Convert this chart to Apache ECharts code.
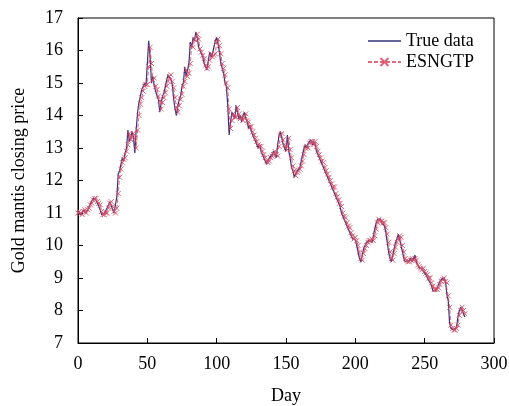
<!DOCTYPE html>
<html><head><meta charset="utf-8">
<script src="https://cdn.jsdelivr.net/npm/echarts@6/dist/echarts.min.js"></script>
<style>html,body{margin:0;padding:0;background:#fff}#c{width:509px;height:406px}</style>
</head><body><div id="c"></div>
<script>
const xTicks = [0, 50, 100, 150, 200, 250, 300];
const yTicks = [7, 8, 9, 10, 11, 12, 13, 14, 15, 16, 17];
const seriesNames = ['True data', 'ESNGTP'];
const trueData = [
11.05,11.0,10.95,11.0,11.1,11.0,11.05,11.1,11.2,11.3,
11.35,11.45,11.5,11.4,11.3,11.35,11.1,10.95,10.9,11.0,
10.95,11.15,11.25,11.35,11.3,11.1,11.0,11.05,11.5,12.2,
12.3,12.5,12.7,12.6,12.85,13.0,13.55,13.2,13.3,13.5,
13.35,12.85,13.6,14.1,14.4,14.6,14.8,14.9,15.0,14.9,
15.6,16.3,15.8,15.0,15.2,14.9,14.85,14.6,14.5,14.1,
14.4,14.6,14.7,14.9,15.1,15.25,15.3,15.1,14.95,14.5,
14.2,14.0,14.3,14.5,14.6,14.9,15.0,15.5,15.2,15.25,
15.6,16.26,16.1,16.4,16.3,16.57,16.4,16.1,16.0,15.9,
15.8,15.6,15.5,15.4,15.7,15.95,15.8,15.9,15.86,16.3,
16.4,16.2,15.95,15.6,15.45,15.3,15.0,14.9,14.3,13.4,
13.8,14.1,14.0,13.9,14.3,14.1,13.9,14.0,13.8,14.0,
14.1,13.9,13.8,13.6,13.7,13.5,13.4,13.3,13.2,13.15,
13.0,13.1,12.9,12.8,12.7,12.6,12.5,12.6,12.7,12.75,
12.8,12.9,12.85,12.7,13.1,13.4,13.5,13.3,13.1,13.0,
12.9,13.4,12.9,12.7,12.4,12.3,12.1,12.2,12.3,12.35,
12.4,12.6,12.8,13.0,13.1,13.0,13.15,13.2,13.25,13.1,
13.2,13.1,12.9,12.8,12.7,12.6,12.57,12.4,12.3,12.2,
12.1,12.0,11.9,11.8,11.85,11.6,11.5,11.4,11.3,11.2,
11.0,10.9,10.85,10.7,10.6,10.57,10.4,10.3,10.2,10.25,
10.17,10.0,9.8,9.6,9.49,9.7,9.9,10.0,10.1,10.15,
10.17,10.2,10.1,10.3,10.5,10.7,10.8,10.75,10.82,10.7,
10.75,10.6,10.4,10.1,9.8,9.6,9.5,9.7,9.9,10.1,
10.2,10.35,10.3,10.0,9.8,9.6,9.5,9.45,9.5,9.55,
9.6,9.5,9.6,9.7,9.5,9.4,9.3,9.25,9.3,9.2,
9.15,9.1,9.0,9.0,8.85,8.75,8.6,8.65,8.6,8.7,
8.8,8.9,8.95,9.0,8.95,8.9,8.5,8.3,7.6,7.45,
7.4,7.4,7.45,7.5,7.8,8.0,8.1,8.08,7.9,7.8
];
const esnData = [
11.0,11.05,11.0,10.95,11.05,11.1,11.0,11.1,11.15,11.25,
11.3,11.4,11.45,11.45,11.35,11.3,11.25,11.05,10.95,10.95,
11.0,11.0,11.15,11.3,11.35,11.2,11.05,11.0,11.15,11.6,
12.1,12.35,12.55,12.65,12.7,12.9,13.1,13.45,13.25,13.35,
13.45,13.3,13.0,13.55,14.0,14.35,14.55,14.75,14.9,14.95,
14.95,15.5,16.1,15.6,15.1,15.15,14.9,14.8,14.6,14.45,
14.2,14.4,14.55,14.7,14.9,15.05,15.2,15.25,15.05,14.85,
14.55,14.25,14.1,14.3,14.5,14.65,14.9,15.05,15.4,15.2,
15.3,15.6,16.15,16.1,16.35,16.3,16.5,16.35,16.05,15.95,
15.85,15.75,15.55,15.45,15.5,15.7,15.9,15.8,15.85,15.9,
16.25,16.35,16.15,15.9,15.6,15.45,15.25,15.0,14.85,14.2,
13.6,13.85,14.05,13.95,13.95,14.25,14.05,13.9,13.95,13.85,
13.95,14.05,13.85,13.8,13.65,13.65,13.5,13.4,13.3,13.2,
13.1,13.05,13.05,12.9,12.8,12.7,12.6,12.55,12.6,12.7,
12.75,12.8,12.9,12.8,12.75,13.05,13.4,13.45,13.25,13.1,
13.0,12.95,13.3,12.95,12.7,12.45,12.3,12.15,12.25,12.3,
12.35,12.45,12.6,12.8,13.0,13.05,13.0,13.15,13.2,13.2,
13.1,13.2,13.05,12.9,12.8,12.7,12.6,12.55,12.4,12.3,
12.2,12.1,12.0,11.9,11.8,11.8,11.6,11.5,11.4,11.3,
11.2,11.0,10.9,10.85,10.7,10.6,10.55,10.4,10.3,10.2,
10.25,10.15,10.0,9.8,9.6,9.55,9.75,9.9,10.0,10.1,
10.15,10.15,10.2,10.15,10.3,10.5,10.7,10.8,10.75,10.75,
10.7,10.7,10.55,10.35,10.1,9.8,9.6,9.55,9.75,9.95,
10.1,10.2,10.3,10.25,10.0,9.8,9.6,9.55,9.5,9.5,
9.55,9.6,9.55,9.6,9.55,9.4,9.35,9.3,9.25,9.3,
9.2,9.15,9.1,9.0,9.0,8.85,8.75,8.65,8.65,8.65,
8.7,8.8,8.9,8.95,9.0,8.9,8.85,8.45,8.1,7.55,
7.45,7.4,7.4,7.45,7.55,7.85,8.0,8.1,8.0,7.9
];

const font = 'Liberation Serif';
const trueColor = '#34347e';
const chart = echarts.init(document.getElementById('c'), null, {renderer: 'canvas'});
const toPairs = arr => arr.map((v, i) => [i, v]);
chart.setOption({
  animation: false,
  backgroundColor: '#fff',
  textStyle: {fontFamily: font},
  grid: {left: 78, right: 15, top: 18, bottom: 63, show: true, borderColor: '#000', borderWidth: 1, outerBoundsMode: 'none', containLabel: false},
  legend: {
    orient: 'vertical', right: 30, top: 27, align: 'left',
    itemWidth: 33, itemHeight: 10, itemGap: 3,
    textStyle: {fontFamily: font, fontSize: 18, color: '#000'},
    data: [
      {name: seriesNames[0], icon: 'path://M0,0L33,0L33,1.3L0,1.3Z', itemStyle: {color: trueColor}},
      {name: seriesNames[1]}
    ]
  },
  xAxis: {
    type: 'value', min: xTicks[0], max: xTicks[xTicks.length - 1], interval: 50,
    name: 'Day', nameLocation: 'middle', nameGap: 44,
    nameTextStyle: {fontFamily: font, fontSize: 18, color: '#000'},
    axisLine: {lineStyle: {color: '#000', width: 1}},
    axisTick: {inside: true, length: 5, lineStyle: {color: '#000'}},
    axisLabel: {fontFamily: font, fontSize: 18, color: '#000', margin: 12},
    splitLine: {show: false}
  },
  yAxis: {
    type: 'value', min: yTicks[0], max: yTicks[yTicks.length - 1], interval: 1,
    name: 'Gold mantis closing price', nameLocation: 'middle', nameGap: 50,
    nameTextStyle: {fontFamily: font, fontSize: 18, color: '#000'},
    axisLine: {lineStyle: {color: '#000', width: 1}},
    axisTick: {inside: true, length: 5, lineStyle: {color: '#000'}},
    axisLabel: {fontFamily: font, fontSize: 18, color: '#000', margin: 15},
    splitLine: {show: false}
  },
  series: [
    {
      name: seriesNames[0], type: 'line', data: toPairs(trueData),
      showSymbol: false, symbol: 'none',
      lineStyle: {color: trueColor, width: 1.2},
      itemStyle: {color: trueColor}
    },
    {
      name: seriesNames[1], type: 'line', data: toPairs(esnData),
      symbol: 'path://M0,0L10,10M10,0L0,10', symbolSize: 5, showAllSymbol: true,
      lineStyle: {color: 'rgba(222,68,92,0.8)', width: 1, type: [4, 2]},
      itemStyle: {color: 'rgba(0,0,0,0)', borderColor: 'rgba(215,75,100,0.85)', borderWidth: 1}
    }
  ]
});
</script></body></html>
